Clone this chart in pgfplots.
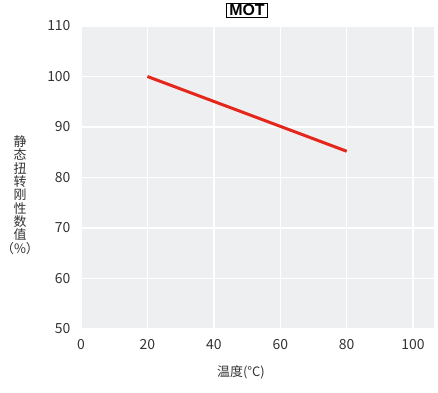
\documentclass[border=0pt]{standalone}
\usepackage{fontspec}
\setmainfont{Noto Sans CJK SC}
\newfontfamily\titlefont{Liberation Sans}
\usepackage{pgfplots}
\pgfplotsset{compat=1.18}
\definecolor{bgc}{HTML}{EEEFF1}
\definecolor{linec}{HTML}{E5261B}
\definecolor{txt}{HTML}{333333}
\begin{document}
\begin{tikzpicture}[x=1bp,y=1bp]
\useasboundingbox (-81,-63) rectangle (357,329);
\begin{axis}[
  at={(0,0)}, anchor=origin,
  scale only axis, width=353bp, height=303bp,
  xmin=0, xmax=106.3, ymin=50, ymax=110,
  xtick={0,20,40,60,80,100}, ytick={50,60,...,110},
  axis background/.style={fill=bgc},
  axis line style={draw=none},
  major tick length=0pt,
  grid=major, major grid style={white, line width=1.5bp},
  tick label style={font=\fontsize{14}{14}\selectfont, text=txt},
  /pgf/number format/assume math mode=true,
  yticklabel style={xshift=-7bp},
  xticklabel style={yshift=-7bp},
  clip=false,
]
\addplot[linec, line width=3bp] coordinates {(20,100) (80,85.2)};
\end{axis}
\node[draw=black, line width=1.1bp, inner xsep=3bp, inner ysep=1.5bp, font=\titlefont\bfseries\fontsize{16}{16}\selectfont] at (166,318.5) {MOT};
\node[font=\fontsize{13}{13.4}\selectfont, text=txt, align=center] at (-61,134) {静\\态\\扭\\转\\刚\\性\\数\\值\\（\%）};
\node[font=\fontsize{13}{13}\selectfont, text=txt] at (160,-43) {温度(\textdegree C)};
\end{tikzpicture}
\end{document}
